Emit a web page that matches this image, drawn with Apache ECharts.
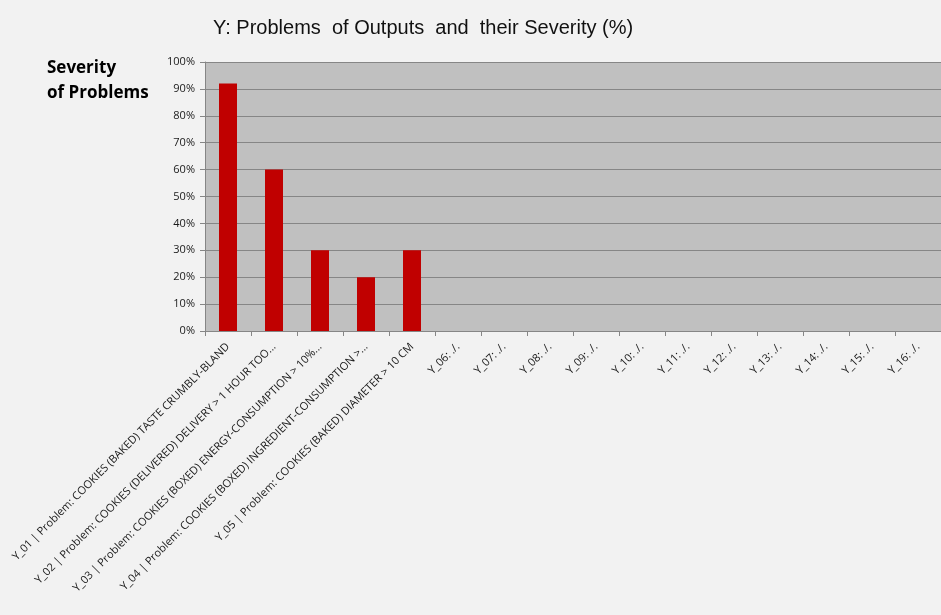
<!DOCTYPE html>
<html><head><meta charset="utf-8">
<script src="https://cdn.jsdelivr.net/npm/echarts@6/dist/echarts.min.js"></script>
<style>html,body{margin:0;padding:0;background:#F2F2F2;}#c{width:941px;height:615px;}</style>
</head><body><div id="c"></div>
<script>
const categories = [
  "Y_01 | Problem: COOKIES (BAKED) TASTE CRUMBLY-BLAND",
  "Y_02 | Problem: COOKIES (DELIVERED) DELIVERY > 1 HOUR TOO...",
  "Y_03 | Problem: COOKIES (BOXED) ENERGY-CONSUMPTION > 10%...",
  "Y_04 | Problem: COOKIES (BOXED) INGREDIENT-CONSUMPTION >...",
  "Y_05 | Problem: COOKIES (BAKED) DIAMETER > 10 CM",
  "Y_06: ./.", "Y_07: ./.", "Y_08: ./.", "Y_09: ./.", "Y_10: ./.",
  "Y_11: ./.", "Y_12: ./.", "Y_13: ./.", "Y_14: ./.", "Y_15: ./.", "Y_16: ./."
];
const severity = [92, 60, 30, 20, 30, null, null, null, null, null, null, null, null, null, null, null];
const chart = echarts.init(document.getElementById('c'));
chart.setOption({
  backgroundColor: '#F2F2F2',
  animation: false,
  title: [{
    text: 'Y: Problems  of Outputs  and  their Severity (%)',
    left: 208, top: 13,
    textStyle: {fontFamily: 'Liberation Sans', fontSize: 20, fontWeight: 'normal', color: '#111'}
  }, {
    text: 'Severity\nof Problems',
    left: 42, top: 51,
    textStyle: {fontFamily: 'Open Sans', fontSize: 17, fontWeight: 'bold', color: '#000', lineHeight: 25}
  }],
  grid: {left: 205, top: 62, width: 746, height: 269, backgroundColor: '#C0C0C0', show: true, borderWidth: 0},
  xAxis: {
    type: 'category', data: categories,
    axisLine: {lineStyle: {color: '#868686'}},
    axisTick: {show: true, alignWithLabel: false, length: 5, lineStyle: {color: '#868686'}},
    axisLabel: {rotate: 45, interval: 0, fontFamily: 'Open Sans', fontSize: 11, color: '#1a1a1a', margin: 14}
  },
  yAxis: {
    type: 'value', min: 0, max: 100, interval: 10,
    axisLine: {show: true, lineStyle: {color: '#868686'}},
    axisTick: {show: true, length: 5, lineStyle: {color: '#868686'}},
    splitLine: {lineStyle: {color: '#868686'}},
    axisLabel: {formatter: '{value}%', fontFamily: 'Open Sans', fontSize: 11, color: '#1a1a1a', margin: 10}
  },
  series: [{
    type: 'bar', data: severity, barWidth: 18,
    itemStyle: {color: '#C00000'}
  }]
});
</script></body></html>
